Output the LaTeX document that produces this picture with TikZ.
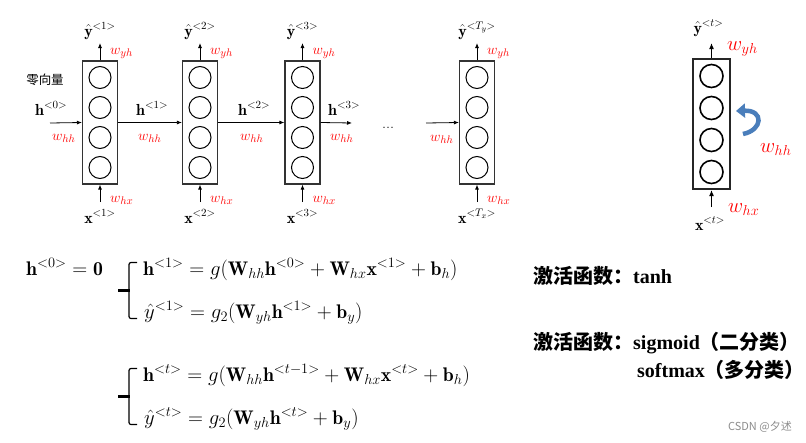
\documentclass[tikz,border=0pt]{standalone}
\usepackage{fontspec}
\usepackage{amsmath}
\newfontfamily\cjk{Noto Sans CJK SC}
\newfontfamily\tnr{Liberation Serif}
\usetikzlibrary{arrows.meta}
\definecolor{wred}{RGB}{255,0,0}
\definecolor{loopblue}{RGB}{74,126,187}
\begin{document}
\begin{tikzpicture}[x=1pt,y=-1pt,
  cell/.style={draw=black!80, line width=1.2pt, minimum width=35pt, minimum height=123pt, inner sep=0pt},
  bigcell/.style={draw=black!85, line width=2pt, minimum width=37pt, minimum height=130pt, inner sep=0pt},
  neuron/.style={draw, circle, minimum size=22pt, inner sep=0pt, line width=1pt},
  bigneuron/.style={draw, circle, minimum size=23pt, inner sep=0pt, line width=1.6pt},
  arr/.style={-{Latex[length=5pt,width=4pt]}, line width=0.8pt},
  bigarr/.style={-{Latex[length=6pt,width=5pt]}, line width=1.6pt},
  lab/.style={font=\fontsize{16}{19}\selectfont, inner sep=0pt},
  wlab/.style={text=wred, font=\fontsize{15.5}{18}\selectfont, inner sep=0pt, anchor=base west},
  bigwlab/.style={text=wred, font=\fontsize{22.5}{26}\selectfont, inner sep=0pt, anchor=base west},
  eq/.style={font=\fontsize{19.7}{24}\selectfont, inner sep=0pt, anchor=base west},
  bracestem/.style={line width=1.2pt, rounded corners=2pt},
  bracetip/.style={line width=3pt},
  act/.style={font=\fontsize{20}{24}\selectfont, inner sep=0pt, anchor=base west}
]
\useasboundingbox (0,0) rectangle (806,442);

% unrolled cells
\foreach \n/\cx/\ys/\xs in {1/100/1/1, 2/200/2/2, 3/302.5/3/3, T/477/T_y/T_x} {
  \node[cell] (c\n) at (\cx,122.5) {};
  \foreach \k/\dy in {a/-45,b/-15,c/15,d/45}
    \node[neuron] (c\n\k) at (\cx,122.5+\dy) {};
  \coordinate (o\n) at (\cx,43);
  \coordinate (i\n) at (\cx,202);
  \draw[arr] (c\n.north) -- (o\n);
  \draw[arr] (i\n) -- (c\n.south);
  \node[lab, anchor=base] (y\n) at (\cx,36) {$\hat{\mathbf{y}}^{<\ys>}$};
  \node[lab, anchor=base] (x\n) at (\cx,223) {$\mathbf{x}^{<\xs>}$};
  \node[wlab] (wy\n) at (\cx+10,54) {$w_{yh}$};
  \node[wlab] (wx\n) at (\cx+10,202) {$w_{hx}$};
}

% horizontal connections
\coordinate (h0s) at (50,123);
\coordinate (h3e) at (352,123);
\coordinate (hTs) at (426,123);
\draw[arr] (h0s) -- (c1.west);
\draw[arr] (c1.east) -- (c2.west);
\draw[arr] (c2.east) -- (c3.west);
\draw[arr] (c3.east) -- (h3e);
\draw[arr] (hTs) -- (cT.west);

\node[font=\cjk\fontsize{12.5}{14}\selectfont, inner sep=0pt] (zero) at (45,80) {零向量};
\node[lab, anchor=base west] (h0) at (35,115) {$\mathbf{h}^{<0>}$};
\node[lab, anchor=base west] (h1) at (136,115) {$\mathbf{h}^{<1>}$};
\node[lab, anchor=base west] (h2) at (238,115) {$\mathbf{h}^{<2>}$};
\node[lab, anchor=base west] (h3) at (328,115) {$\mathbf{h}^{<3>}$};
\node[wlab] (wh0) at (52,140) {$w_{hh}$};
\node[wlab] (wh1) at (138,140) {$w_{hh}$};
\node[wlab] (wh2) at (240,140) {$w_{hh}$};
\node[wlab] (wh3) at (330,140) {$w_{hh}$};
\node[wlab] (whT) at (430,141) {$w_{hh}$};
\node[lab, anchor=base] (dots) at (388,128) {...};

% folded cell
\node[bigcell] (ct) at (711.5,124) {};
\foreach \k/\dy in {a/-48,b/-16,c/16,d/48}
  \node[bigneuron] (ct\k) at (711.5,124+\dy) {};
\coordinate (ot) at (711.5,43);
\coordinate (it) at (711.5,207);
\draw[bigarr] (ct.north) -- (ot);
\draw[bigarr] (it) -- (ct.south);
\node[lab, anchor=base] (yt) at (708.5,33) {$\hat{\mathbf{y}}^{<t>}$};
\node[lab, anchor=base] (xt) at (710,230) {$\mathbf{x}^{<t>}$};
\node[bigwlab] (wyt) at (727,50) {$w_{yh}$};
\node[bigwlab] (wxt) at (728,212) {$w_{hx}$};
\node[bigwlab] (wht) at (760,152) {$w_{hh}$};
\coordinate (lps) at (743,134);
\coordinate (lpe) at (736,111);
\draw[loopblue, line width=4.5pt, -{Triangle[length=9pt,width=14pt]}]
  (lps) .. controls (763,130) and (764,110) .. (lpe);

% equations
\node[eq] (e0) at (26,275) {$\mathbf{h}^{<0>}=\mathbf{0}$};
\foreach \dy in {0,106} {
  \draw[bracestem] (137,262.5+\dy) -- (129,262.5+\dy) -- (129,318.5+\dy) -- (137,318.5+\dy);
  \draw[bracetip] (118,290+\dy) -- (129.6,290+\dy);
}
\node[eq] (e1) at (143,275) {$\mathbf{h}^{<1>}=g(\mathbf{W}_{hh}\mathbf{h}^{<0>}+\mathbf{W}_{hx}\mathbf{x}^{<1>}+\mathbf{b}_h)$};
\node[eq] (e2) at (144,318) {$\hat{y}^{<1>}=g_2(\mathbf{W}_{yh}\mathbf{h}^{<1>}+\mathbf{b}_y)$};
\node[eq] (e3) at (143,381) {$\mathbf{h}^{<t>}=g(\mathbf{W}_{hh}\mathbf{h}^{<t-1>}+\mathbf{W}_{hx}\mathbf{x}^{<t>}+\mathbf{b}_h)$};
\node[eq] (e4) at (144,424) {$\hat{y}^{<t>}=g_2(\mathbf{W}_{yh}\mathbf{h}^{<t>}+\mathbf{b}_y)$};

% activation functions
\node[act] (a1) at (533,283) {{\cjk\bfseries 激活函数：}{\tnr\bfseries tanh}};
\node[act] (a2) at (533,349) {{\cjk\bfseries 激活函数：}{\tnr\bfseries sigmoid}{\cjk\bfseries （二分类）}};
\node[act] (a3) at (637,377) {{\tnr\bfseries softmax}{\cjk\bfseries （多分类）}};

\node[font=\cjk\fontsize{11}{13}\selectfont, text=black!45, inner sep=0pt, anchor=base east] (wm) at (792,430) {CSDN @夕述};
\end{tikzpicture}
\end{document}
